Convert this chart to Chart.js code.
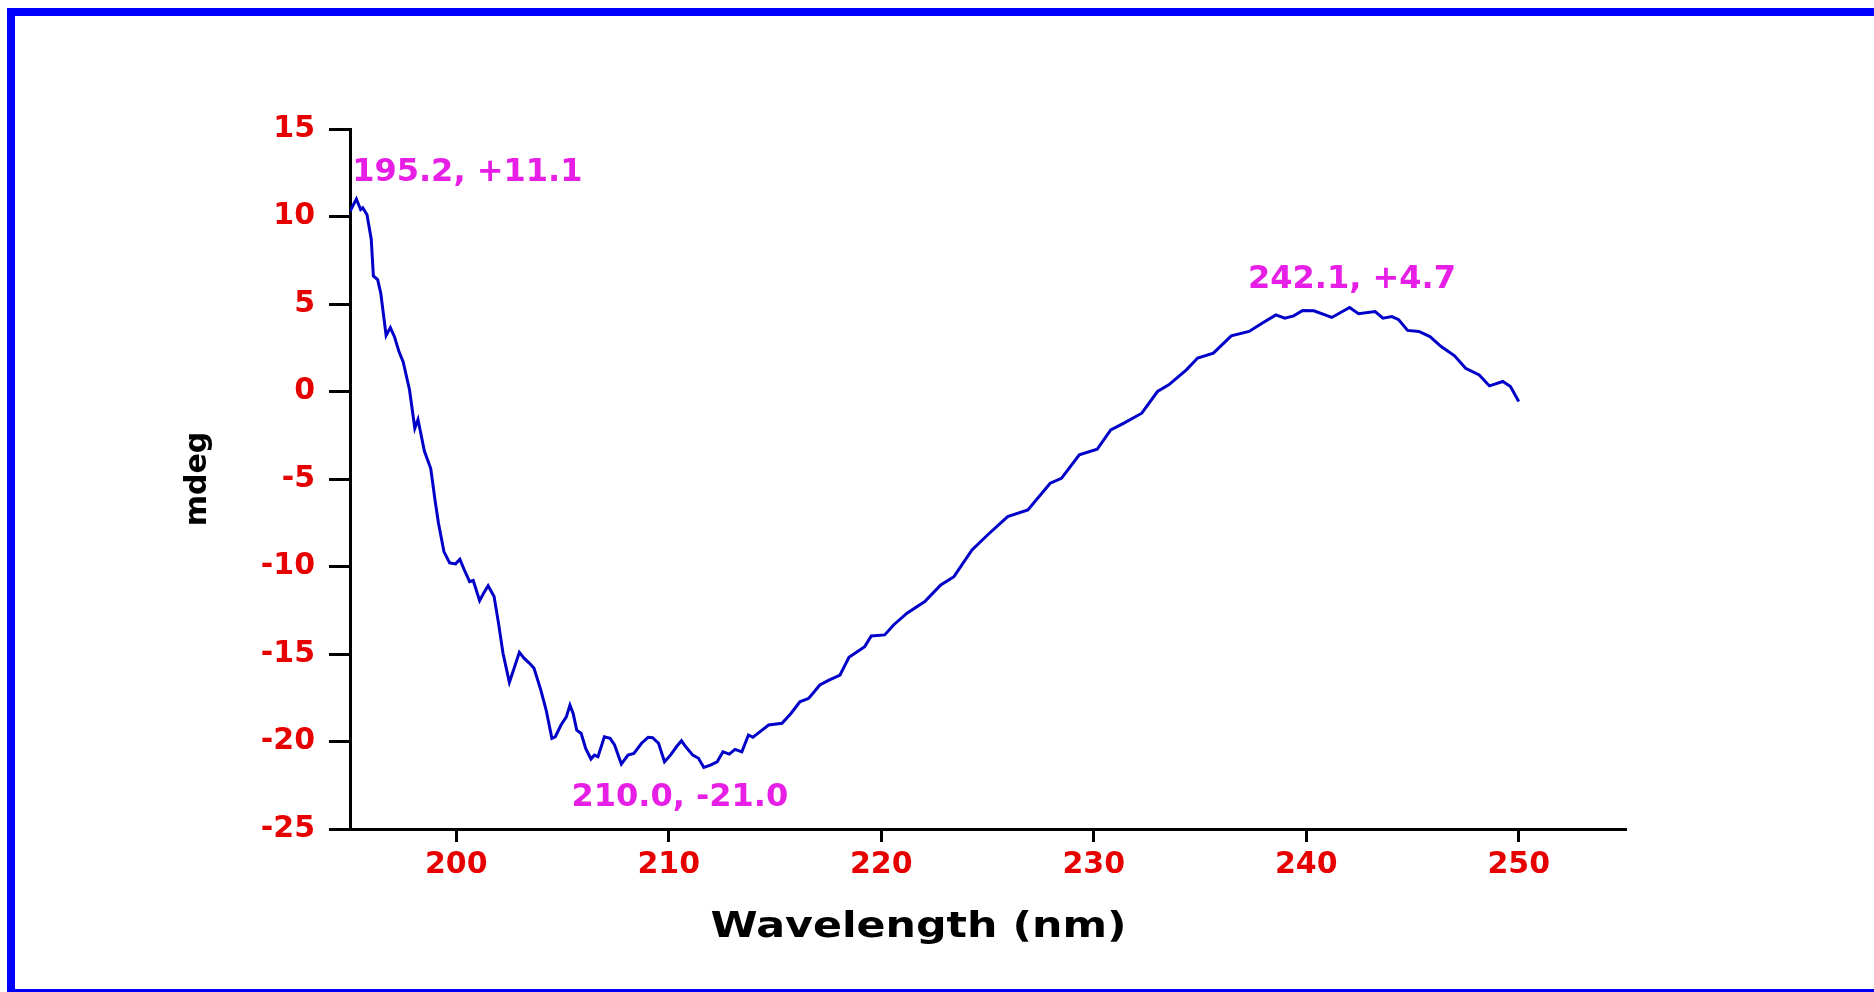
<!DOCTYPE html>
<html>
<head>
<meta charset="utf-8">
<script src="https://cdn.jsdelivr.net/npm/chart.js@4.4.1/dist/chart.umd.min.js"></script>
<style>
  html, body { margin: 0; padding: 0; background: #fff; }
  #wrap { position: relative; width: 1874px; height: 992px; }
</style>
</head>
<body>
<div id="wrap"><canvas id="cdChart"></canvas></div>
<script>
// CD spectrum, values
const wavelength = [
  195.0, 195.3, 195.5, 195.6, 195.8, 196.0, 196.1, 196.3, 196.45, 196.7,
  196.9, 197.1, 197.3, 197.5, 197.8, 198.05, 198.2, 198.5, 198.8, 199.0,
  199.16, 199.42, 199.69, 199.97, 200.17, 200.38, 200.63, 200.8, 201.1, 201.3,
  201.5, 201.78, 201.99, 202.2, 202.5, 202.7, 202.97, 203.2, 203.45, 203.66,
  203.98, 204.23, 204.5, 204.66, 204.93, 205.18, 205.35, 205.5, 205.67, 205.88,
  206.09, 206.34, 206.5, 206.67, 206.97, 207.24, 207.45, 207.77, 208.08, 208.36,
  208.72, 209.03, 209.24, 209.52, 209.8, 210.08, 210.39, 210.6, 210.8, 211.13,
  211.4, 211.65, 211.96, 212.28, 212.55, 212.85, 213.12, 213.44, 213.75, 213.96,
  214.39, 214.7, 215.33, 215.75, 216.17, 216.59, 217.11, 217.54, 218.06, 218.48,
  219.22, 219.53, 220.16, 220.58, 221.21, 222.05, 222.8, 223.42, 224.27, 225.0,
  225.95, 226.9, 227.95, 228.48, 229.32, 230.16, 230.8, 231.42, 232.26, 233.0,
  233.53, 234.36, 234.89, 235.63, 236.47, 237.31, 237.94, 238.57, 238.99, 239.41,
  239.83, 240.36, 241.2, 242.04, 242.46, 243.24, 243.61, 244.03, 244.35, 244.77,
  245.3, 245.82, 246.35, 246.98, 247.5, 248.14, 248.62, 249.25, 249.61, 250.0
];
const mdeg = [
  10.3, 11.0, 10.4, 10.5, 10.1, 8.7, 6.6, 6.4, 5.6, 3.2,
  3.65, 3.1, 2.3, 1.7, 0.1, -2.1, -1.6, -3.4, -4.4, -6.2,
  -7.5, -9.15, -9.8, -9.85, -9.59, -10.2, -10.87, -10.8, -11.95, -11.5,
  -11.1, -11.72, -13.25, -14.96, -16.62, -15.9, -14.9, -15.25, -15.53, -15.82,
  -17.06, -18.2, -19.82, -19.73, -19.06, -18.59, -17.92, -18.4, -19.35, -19.54,
  -20.4, -21.0, -20.78, -20.87, -19.73, -19.82, -20.2, -21.29, -20.78, -20.68,
  -20.1, -19.76, -19.78, -20.1, -21.16, -20.78, -20.26, -19.96, -20.3, -20.78,
  -20.96, -21.48, -21.35, -21.16, -20.59, -20.72, -20.45, -20.59, -19.63, -19.76,
  -19.35, -19.06, -18.96, -18.4, -17.73, -17.53, -16.77, -16.49, -16.2, -15.19,
  -14.58, -13.97, -13.91, -13.34, -12.67, -12.0, -11.05, -10.58, -9.05, -8.2,
  -7.15, -6.77, -5.24, -4.96, -3.62, -3.3, -2.19, -1.81, -1.24, 0.0,
  0.38, 1.24, 1.91, 2.19, 3.18, 3.43, 3.91, 4.38, 4.19, 4.32,
  4.63, 4.61, 4.23, 4.8, 4.44, 4.57, 4.19, 4.28, 4.1, 3.49,
  3.43, 3.14, 2.57, 2.04, 1.33, 0.95, 0.32, 0.57, 0.28, -0.57
];
const xTicks = [200, 210, 220, 230, 240, 250];
const yTicks = [-25, -20, -15, -10, -5, 0, 5, 10, 15];

// peak labels (text + where it sits, in data units)
const peakLabels = ['195.2, +11.1', '210.0, -21.0', '242.1, +4.7'];
const peakLabelX = [200.52, 210.52, 242.15];
const peakLabelY = [12.5, -23.2, 6.38];

const xTitle = 'Wavelength (nm)';

const frame = {
  id: 'frame',
  beforeDraw(chart) {
    const ctx = chart.ctx;
    ctx.save();
    ctx.fillStyle = '#ffffff';
    ctx.fillRect(0, 0, chart.width, chart.height);
    ctx.fillStyle = '#0000ff';
    ctx.fillRect(7, 8, chart.width - 7, 8);
    ctx.fillRect(7, 8, 8, chart.height - 8);
    ctx.fillRect(7, 989, chart.width - 7, 3);
    ctx.restore();
  }
};

const labels = {
  id: 'labels',
  afterDatasetsDraw(chart) {
    const ctx = chart.ctx;
    const xs = chart.scales.x, ys = chart.scales.y;
    ctx.save();
    ctx.font = 'bold 32px "DejaVu Sans"';
    ctx.fillStyle = '#e61ee6';
    ctx.textAlign = 'center';
    ctx.textBaseline = 'middle';
    peakLabels.forEach((t, i) => {
      ctx.fillText(t, xs.getPixelForValue(peakLabelX[i]), ys.getPixelForValue(peakLabelY[i]));
    });
    ctx.restore();

    // x title, a little left of centre and stretched wide like the original
    ctx.save();
    ctx.font = 'bold 36px "DejaVu Sans"';
    ctx.fillStyle = '#000';
    ctx.textAlign = 'center';
    ctx.textBaseline = 'middle';
    const w = ctx.measureText(xTitle).width;
    const sx = 416 / w;
    const cx = (xs.left + xs.right) / 2 - 69;
    ctx.translate(cx, xs.top + 99);
    ctx.scale(sx, 1);
    ctx.fillText(xTitle, 0, 0);
    ctx.restore();
  }
};

new Chart(document.getElementById('cdChart'), {
  type: 'line',
  data: {
    datasets: [{
      data: wavelength.map((w, i) => ({ x: w, y: mdeg[i] })),
      borderColor: '#0000c8',
      borderWidth: 3,
      pointRadius: 0,
      tension: 0,
      fill: false
    }]
  },
  options: {
    responsive: true,
    maintainAspectRatio: false,
    animation: false,
    layout: { padding: { left: 0, top: 129, right: 249, bottom: 0 } },
    plugins: { legend: { display: false }, tooltip: { enabled: false } },
    scales: {
      x: {
        type: 'linear',
        min: 195,
        max: 255,
        afterBuildTicks: s => { s.ticks = xTicks.map(v => ({ value: v })); },
        afterFit: s => { s.height = 163; },
        border: { display: true, color: '#000', width: 3 },
        grid: { drawOnChartArea: false, drawTicks: true, tickLength: 13, color: '#000', lineWidth: 3 },
        ticks: { color: '#e60000', font: { family: 'DejaVu Sans', weight: 'bold', size: 30 }, padding: 5, maxRotation: 0 },
        title: { display: false }
      },
      y: {
        min: -25,
        max: 15,
        afterBuildTicks: s => { s.ticks = yTicks.map(v => ({ value: v })); },
        afterFit: s => { s.width = 350; },
        border: { display: true, color: '#000', width: 3 },
        grid: { drawOnChartArea: false, drawTicks: true, tickLength: 21, color: '#000', lineWidth: 3 },
        ticks: { color: '#e60000', font: { family: 'DejaVu Sans', weight: 'bold', size: 30 }, padding: 14 },
        title: {
          display: true,
          text: 'mdeg',
          color: '#000',
          font: { family: 'DejaVu Sans', weight: 'bold', size: 30 },
          padding: { top: 180, bottom: 0 }
        }
      }
    }
  },
  plugins: [frame, labels]
});
</script>
</body>
</html>
